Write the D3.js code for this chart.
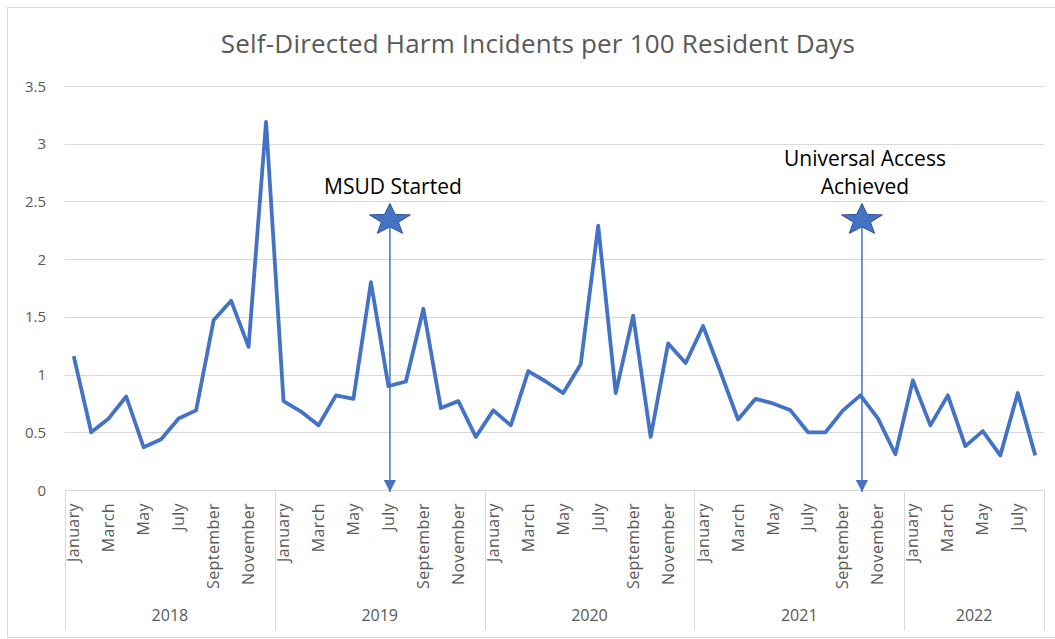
<!DOCTYPE html>
<html>
<head>
<meta charset="utf-8">
<script src="https://cdn.jsdelivr.net/npm/d3@7"></script>
<style>
  body { margin: 0; background: #fff; }
  text { font-family: "Open Sans", sans-serif; }
</style>
</head>
<body>
<div id="chart"></div>
<script>
// Data (Jan 2018 - Aug 2022)
const years = ["2018", "2019", "2020", "2021", "2022"];
const monthNames = ["January", "February", "March", "April", "May", "June",
  "July", "August", "September", "October", "November", "December"];
const monthsPerYear = [12, 12, 12, 12, 8];
const rates = [
  1.16, 0.50, 0.62, 0.81, 0.37, 0.44, 0.62, 0.69, 1.47, 1.64, 1.24, 3.19,
  0.77, 0.68, 0.56, 0.82, 0.79, 1.80, 0.90, 0.94, 1.57, 0.71, 0.77, 0.46,
  0.69, 0.56, 1.03, 0.94, 0.84, 1.09, 2.29, 0.84, 1.51, 0.46, 1.27, 1.10,
  1.42, 1.02, 0.61, 0.79, 0.75, 0.69, 0.50, 0.50, 0.69, 0.82, 0.62, 0.31,
  0.95, 0.56, 0.82, 0.38, 0.51, 0.30, 0.84, 0.30
];
const yTicks = [0, 0.5, 1, 1.5, 2, 2.5, 3, 3.5];
const annotations = [
  { year: "2019", month: "July", lines: ["MSUD Started"] },
  { year: "2021", month: "October", lines: ["Universal Access", "Achieved"] }
];

const width = 1055, height = 639;
const margin = { left: 65, right: 11, top: 86, bottom: 149 };
const blue = "#4472C4";
const grid = "#d9d9d9";
const grey = "#595959";

// build one row per month
let data = [];
let k = 0;
years.forEach((yr, yi) => {
  for (let m = 0; m < monthsPerYear[yi]; m++) {
    data.push({ key: yr + "-" + m, year: yr, month: monthNames[m], m: m, value: rates[k++] });
  }
});

let svg = d3.select("#chart").append("svg")
  .attr("width", width)
  .attr("height", height);

// outer chart border
svg.append("rect")
  .attr("x", 7.5).attr("y", 7.5)
  .attr("width", 1055).attr("height", 630)
  .attr("fill", "none")
  .attr("stroke", grid);

let x = d3.scaleBand()
  .domain(data.map(d => d.key))
  .range([margin.left, width - margin.right]);

let y = d3.scaleLinear()
  .domain([0, 3.5])
  .range([height - margin.bottom, margin.top]);

// title
svg.append("text")
  .attr("x", 538).attr("y", 53)
  .attr("text-anchor", "middle")
  .style("font-size", "26px")
  .style("letter-spacing", "0.2px")
  .attr("fill", grey)
  .text("Self-Directed Harm Incidents per 100 Resident Days");

// gridlines + y labels
let yAxis = svg.append("g");
yTicks.forEach(t => {
  yAxis.append("line")
    .attr("x1", margin.left).attr("x2", width - margin.right)
    .attr("y1", Math.round(y(t)) + 0.5).attr("y2", Math.round(y(t)) + 0.5)
    .attr("stroke", grid);
  yAxis.append("text")
    .attr("x", 46).attr("y", y(t) + 5.5)
    .attr("text-anchor", "end")
    .style("font-size", "15px")
    .attr("fill", grey)
    .text(t);
});

// category axis: month labels (every other month) and year boxes
let xAxis = svg.append("g");
data.filter(d => d.m % 2 === 0).forEach(d => {
  let cx = x(d.key) + x.bandwidth() / 2;
  xAxis.append("text")
    .attr("transform", `translate(${cx + 5.5}, 503) rotate(-90)`)
    .attr("text-anchor", "end")
    .style("font-size", "16px")
    .style("letter-spacing", "0.4px")
    .attr("fill", grey)
    .text(d.month);
});

let yearStart = 0;
let boundaries = [margin.left];
years.forEach((yr, yi) => {
  let first = data[yearStart].key;
  let last = data[yearStart + monthsPerYear[yi] - 1].key;
  let x0 = x(first), x1 = x(last) + x.bandwidth();
  boundaries.push(x1);
  xAxis.append("text")
    .attr("x", (x0 + x1) / 2).attr("y", 621)
    .attr("text-anchor", "middle")
    .style("font-size", "16px")
    .attr("fill", grey)
    .text(yr);
  yearStart += monthsPerYear[yi];
});
boundaries.forEach(b => {
  xAxis.append("line")
    .attr("x1", Math.round(b) + 0.5).attr("x2", Math.round(b) + 0.5)
    .attr("y1", y(0)).attr("y2", 630)
    .attr("stroke", grid);
});

// the series line
let line = d3.line()
  .x(d => x(d.key) + x.bandwidth() / 2)
  .y(d => y(d.value));

svg.append("path")
  .datum(data)
  .attr("fill", "none")
  .attr("stroke", blue)
  .attr("stroke-width", 3.8)
  .attr("stroke-linejoin", "round")
  .attr("d", line);

// annotations: star + arrow down to the axis
svg.append("defs").append("marker")
  .attr("id", "arrow")
  .attr("viewBox", "0 0 10 10")
  .attr("refX", 10).attr("refY", 5)
  .attr("markerWidth", 8).attr("markerHeight", 8)
  .attr("orient", "auto")
  .append("path")
  .attr("d", "M0,0 L10,5 L0,10 Z")
  .attr("fill", blue);

function starPoints(cx, cy, rx, ry) {
  let pts = [];
  for (let i = 0; i < 10; i++) {
    let a = -Math.PI / 2 + i * Math.PI / 5;
    let r = i % 2 === 0 ? 1 : 0.42;
    pts.push([cx + Math.cos(a) * rx * r, cy + Math.sin(a) * ry * r]);
  }
  return pts.map(p => p.join(",")).join(" ");
}

annotations.forEach(a => {
  let d = data.find(e => e.year === a.year && e.month === a.month);
  let cx = x(d.key) + x.bandwidth() / 2 + 1.5;
  let cy = 220;
  svg.append("line")
    .attr("x1", cx).attr("x2", cx)
    .attr("y1", cy).attr("y2", y(0) + 2)
    .attr("stroke", blue)
    .attr("stroke-width", 1.5)
    .attr("marker-end", "url(#arrow)");
  svg.append("polygon")
    .attr("points", starPoints(cx, cy, 21.5, 16.5))
    .attr("fill", blue)
    .attr("stroke", "#2F528F")
    .attr("stroke-width", 1);
  let n = a.lines.length;
  a.lines.forEach((t, i) => {
    svg.append("text")
      .attr("x", cx + 3).attr("y", 194 - (n - 1 - i) * 28)
      .attr("text-anchor", "middle")
      .style("font-size", "21px")
      .attr("fill", "#000")
      .text(t);
  });
});
</script>
</body>
</html>
